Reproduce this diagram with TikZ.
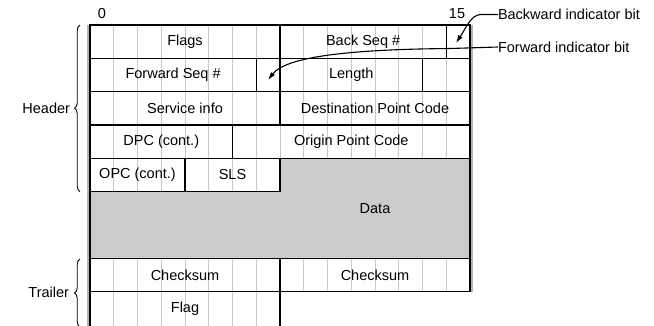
\documentclass[tikz,border=0pt]{standalone}
\usepackage{fontspec}
\setmainfont{Liberation Sans}
\usetikzlibrary{arrows.meta,decorations.pathreplacing}
\definecolor{gridgray}{HTML}{C8C8C8}
\definecolor{datagray}{HTML}{CCCCCC}
\definecolor{edgegray}{HTML}{B4B4B4}
\newcommand\fieldbox[5]{%
  \pgfmathsetmacro\fbx{90+(#2+#3)/2*23.75}%
  \pgfmathsetmacro\fby{25+(#4+0.5)*33.3333}%
  \pgfmathsetmacro\fbw{(#3-#2)*23.75}%
  \node[field, minimum width=\fbw pt, minimum height=33.3333pt] (#1) at (\fbx,\fby) {#5};}
\begin{document}
\begin{tikzpicture}[x=1pt,y=-1pt,
  every node/.style={font=\fontsize{14.5}{17}\selectfont, inner sep=0pt, outer sep=0pt},
  field/.style={draw=black, line width=1.1pt},
  gridline/.style={draw=gridgray, line width=1pt},
  edgeline/.style={draw=black, line width=1.1pt},
  shadow/.style={draw=edgegray, line width=2.2pt},
  bracestyle/.style={draw=black, line width=0.9pt, decorate, decoration={brace, amplitude=5.5pt}},
  pointer/.style={draw=black, line width=1.1pt, -{Latex[length=8pt,width=5pt]}},
  label/.style={anchor=west}]
\useasboundingbox (0,0) rectangle (654,325);
% data area
\fill[datagray] (280,158.33) -- (470,158.33) -- (470,258.33) -- (90,258.33) -- (90,191.67) -- (280,191.67) -- cycle;
% light column lines
\foreach \i in {1,...,15} {
  \draw[gridline] ({90+\i*23.75},25) -- ({90+\i*23.75},158.33);
  \draw[gridline] ({90+\i*23.75},258.33) -- ({90+\i*23.75},291.67);
}
\foreach \i in {1,...,7} {
  \draw[gridline] ({90+\i*23.75},158.33) -- ({90+\i*23.75},191.67);
  \draw[gridline] ({90+\i*23.75},291.67) -- ({90+\i*23.75},330);
}
% outer edges with shadow
\draw[shadow] (88.4,25) -- (88.4,330);
\draw[shadow] (472,25) -- (472,291.67);
% fields
\fieldbox{flags}{0}{8}{0}{Flags}
\fieldbox{bseq}{8}{15}{0}{Back Seq \#}
\fieldbox{bbit}{15}{16}{0}{}
\fieldbox{fseq}{0}{7}{1}{Forward Seq \#}
\fieldbox{fbit}{7}{8}{1}{}
\fieldbox{length}{8}{14}{1}{Length}
\fieldbox{spare}{14}{16}{1}{}
\fieldbox{sinfo}{0}{8}{2}{Service info}
\fieldbox{dpc}{8}{16}{2}{Destination Point Code}
\fieldbox{dpcc}{0}{6}{3}{DPC (cont.)}
\fieldbox{opc}{6}{16}{3}{Origin Point Code}
\fieldbox{opcc}{0}{4}{4}{OPC (cont.)}
\fieldbox{sls}{4}{8}{4}{SLS}
\fieldbox{cksa}{0}{8}{7}{Checksum}
\fieldbox{cksb}{8}{16}{7}{Checksum}
\node (flag) at (185,308.33) {Flag};
\node (data) at (375,208.33) {Data};
% outer edges and flag row lines
\draw[edgeline] (flags.north west) -- (90,330);
\draw[edgeline] (bbit.north east) -- (cksb.south east);
\draw[edgeline] (cksa.south east) -- ++(0,40);
% bit numbers
\node (zero) at (101.9,14) {0};
\node (fifteen) at (457,14) {15};
% braces
\draw[bracestyle] (80,191.67) -- (80,25);
\draw[bracestyle] (80,327) -- (80,259);
\node[anchor=east] (header) at (70,108.33) {Header};
\node[anchor=east] (trailer) at (69,292) {Trailer};
% indicator annotations
\node[label] (bwtext) at (498,14.5) {Backward indicator bit};
\node[label] (fwtext) at (498,47) {Forward indicator bit};
\coordinate (bwtip) at (456,43);
\coordinate (fwtip) at (268,80);
\draw[pointer] (bwtext.west) -- (481,14.5) .. controls (471,14.5) and (466,28) .. (bwtip);
\draw[pointer] (fwtext.west) -- (450,48.5) .. controls (340,49.5) and (285,58) .. (fwtip);
\end{tikzpicture}
\end{document}
